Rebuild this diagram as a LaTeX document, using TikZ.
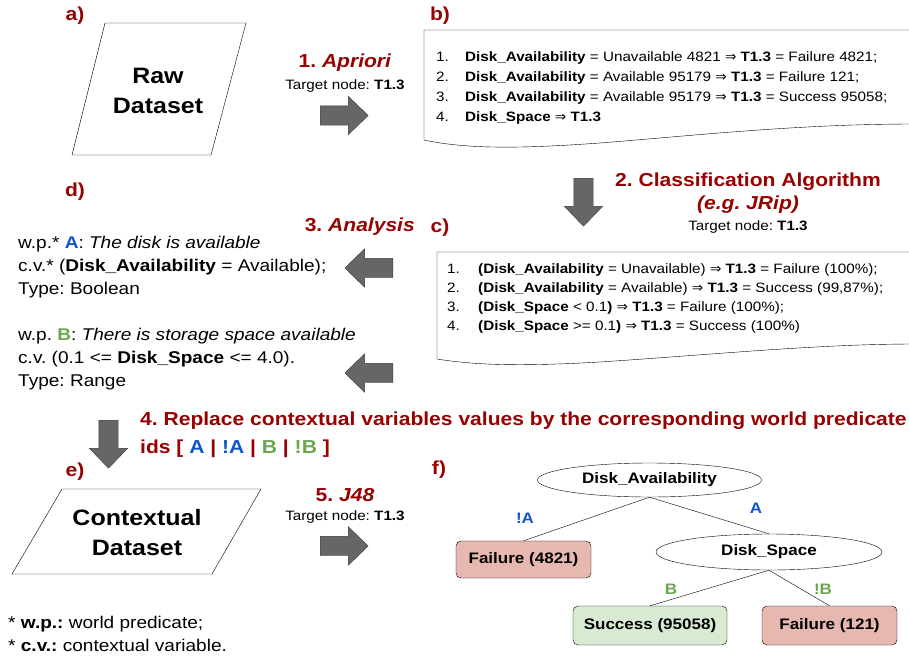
\documentclass[tikz,border=0pt]{standalone}
\usepackage{fontspec}
\setmainfont[FakeStretch=1.12]{Liberation Sans}
\newfontfamily\symfnt{DejaVu Sans}
\frenchspacing
\usetikzlibrary{shapes.geometric,shapes.arrows}
\definecolor{headred}{RGB}{153,0,0}
\definecolor{wpblue}{RGB}{17,85,204}
\definecolor{wpgreen}{RGB}{106,168,79}
\definecolor{failfill}{RGB}{230,184,175}
\definecolor{succfill}{RGB}{217,234,211}
\definecolor{arrowgray}{RGB}{102,102,102}
\definecolor{arrowedge}{RGB}{60,60,60}
\newcommand\fhead{\fontsize{18.8}{22}\selectfont\bfseries}
\newcommand\flist{\fontsize{13.6}{20}\selectfont}
\newcommand\ftext{\fontsize{17}{23}\selectfont}
\newcommand\ftree{\fontsize{15.2}{18}\selectfont\bfseries}
\newcommand\fdata{\fontsize{22.3}{30}\selectfont\bfseries}
\newcommand\imp{{\symfnt ⇒}}
\tikzset{
  steplabel/.style={text=headred, font=\fhead, inner sep=0pt},
  target/.style={font=\flist, inner sep=0pt},
  blockarrow/.style={single arrow, draw=arrowedge, fill=arrowgray, inner xsep=0pt,
    inner ysep=9.5pt, single arrow head extend=9.5pt, minimum height=48pt,
    minimum width=38pt, single arrow tip angle=88},
  dataset/.style={font=\fdata, align=center, inner sep=0pt},
  rules/.style={font=\flist, anchor=north west, inner sep=0pt},
  cond/.style={draw, ellipse, font=\ftree, inner sep=0pt},
  leaf/.style={draw, rounded corners=5pt, font=\ftree, inner sep=0pt},
  branch/.style={font=\ftree, inner sep=0pt}
}
\begin{document}
\begin{tikzpicture}[x=1pt, y=-1pt]
	\useasboundingbox (0,0) rectangle (909,656);
	% a) raw data
	\node[steplabel] (la) at (75,16) {a)};
	\draw (105,23) -- (246,23) -- (211,155) -- (72,155) -- cycle;
	\node[dataset] (raw) at (158,91) {Raw\\Dataset};
	\node[steplabel] (s1) at (345,63) {1. \textit{Apriori}};
	\node[target] (t1) at (345,86) {Target node: \textbf{T1.3}};
	\node[blockarrow, anchor=tail] (a1) at (320,115.5) {};
	% b) apriori rules
	\node[steplabel] (lb) at (440,16) {b)};
	\draw (424,30) -- (915,30) -- (915,124) .. controls (800,124) and (700,135) .. (600,143)
	  .. controls (530,148) and (470,150) .. (424,140) -- cycle;
	\node[rules] (rb) at (436,47) {\begin{tabular}{@{}p{29pt}@{}l@{}}
	  1. & \textbf{Disk\_Availability} = Unavailable 4821 \imp{} \textbf{T1.3} = Failure 4821;\\
	  2. & \textbf{Disk\_Availability} = Available 95179 \imp{} \textbf{T1.3} = Failure 121;\\
	  3. & \textbf{Disk\_Availability} = Available 95179 \imp{} \textbf{T1.3} = Success 95058;\\
	  4. & \textbf{Disk\_Space} \imp{} \textbf{T1.3}
	\end{tabular}};
	\node[blockarrow, anchor=tail, rotate=-90] (a2) at (583.5,178) {};
	\node[steplabel] (s2) at (748,182) {2. Classification Algorithm};
	\node[steplabel] (s2b) at (748,205) {\textit{(e.g. JRip)}};
	\node[target] (t2) at (748,227) {Target node: \textbf{T1.3}};
	% c) classification rules
	\node[steplabel] (lc) at (440,228) {c)};
	\draw (437,252) -- (915,252) -- (915,344) .. controls (820,344) and (720,354) .. (600,362)
	  .. controls (530,366) and (480,366) .. (437,359) -- cycle;
	\node[rules] (rc) at (447,260) {\fontsize{13.6}{19}\selectfont\begin{tabular}{@{}p{31pt}@{}l@{}}
	  1. & \textbf{(Disk\_Availability} = Unavailable) \imp{} \textbf{T1.3} = Failure (100\%);\\
	  2. & \textbf{(Disk\_Availability} = Available) \imp{} \textbf{T1.3} = Success (99,87\%);\\
	  3. & \textbf{(Disk\_Space} {\textless} 0.1\textbf{)} \imp{} \textbf{T1.3} = Failure (100\%);\\
	  4. & \textbf{(Disk\_Space} {\textgreater}= 0.1\textbf{)} \imp{} \textbf{T1.3} = Success (100\%)
	\end{tabular}};
	\node[steplabel, anchor=east] (s3) at (415,227) {3. \textit{Analysis}};
	\node[blockarrow, anchor=tail, rotate=180] (a3) at (393,268) {};
	\node[blockarrow, anchor=tail, rotate=180] (a3b) at (393,373) {};
	% d) world predicates
	\node[steplabel] (ld) at (75,192) {d)};
	\node[rules, font=\ftext] (wp) at (18,232) {\begin{tabular}{@{}l@{}}
	  w.p.* \textcolor{wpblue}{\textbf{A}}: \textit{The disk is available}\\
	  c.v.* (\textbf{Disk\_Availability} = Available);\\
	  Type: Boolean\\[23pt]
	  w.p. \textcolor{wpgreen}{\textbf{B}}: \textit{There is storage space available}\\
	  c.v. (0.1 {\textless}= \textbf{Disk\_Space} {\textless}= 4.0).\\
	  Type: Range
	\end{tabular}};
	\node[blockarrow, anchor=tail, rotate=-90] (a4) at (108.5,420) {};
	\node[steplabel, anchor=west] (s4) at (140,421) {4. Replace contextual variables values by the corresponding world predicate};
	\node[steplabel, anchor=west] (s4b) at (140,449) {ids [ \textcolor{wpblue}{A} | \textcolor{wpblue}{!A} | \textcolor{wpgreen}{B} | \textcolor{wpgreen}{!B} ]};
	% e) contextual data
	\node[steplabel] (le) at (75,472) {e)};
	\draw (62,489) -- (261,489) -- (212,574) -- (12,574) -- cycle;
	\node[dataset] (ctx) at (137,533) {Contextual\\Dataset};
	\node[steplabel] (s5) at (345,495) {5. \textit{J48}};
	\node[target] (t5) at (345,517) {Target node: \textbf{T1.3}};
	\node[blockarrow, anchor=tail] (a5) at (320,546) {};
	\node[rules, font=\ftext] (notes) at (8,612) {\begin{tabular}{@{}l@{}}
	  {*} \textbf{w.p.:} world predicate;\\
	  {*} \textbf{c.v.:} contextual variable.
	\end{tabular}};
	% f) decision tree
	\node[steplabel] (lf) at (439,470) {f)};
	\node[cond, minimum width=224pt, minimum height=34pt] (da) at (649.5,480) {Disk\_Availability};
	\node[cond, minimum width=226pt, minimum height=36pt] (ds) at (769,552) {Disk\_Space};
	\node[leaf, fill=failfill, minimum width=135pt, minimum height=37pt] (fa) at (523.5,559.5) {Failure (4821)};
	\node[leaf, fill=succfill, minimum width=154pt, minimum height=39pt] (su) at (650,625.5) {Success (95058)};
	\node[leaf, fill=failfill, minimum width=135pt, minimum height=39pt] (fb) at (829.5,625.5) {Failure (121)};
	\draw (da.south) -- (fa.north);
	\draw (da.south) -- (ds.north);
	\draw (ds.south) -- (su.north);
	\draw (ds.south) -- (fb.north);
	\node[branch, text=wpblue] (na) at (525,518) {!A};
	\node[branch, text=wpblue] (ya) at (756,508) {A};
	\node[branch, text=wpgreen] (yb) at (671,589) {B};
	\node[branch, text=wpgreen] (nb) at (823,589) {!B};
\end{tikzpicture}
\end{document}
